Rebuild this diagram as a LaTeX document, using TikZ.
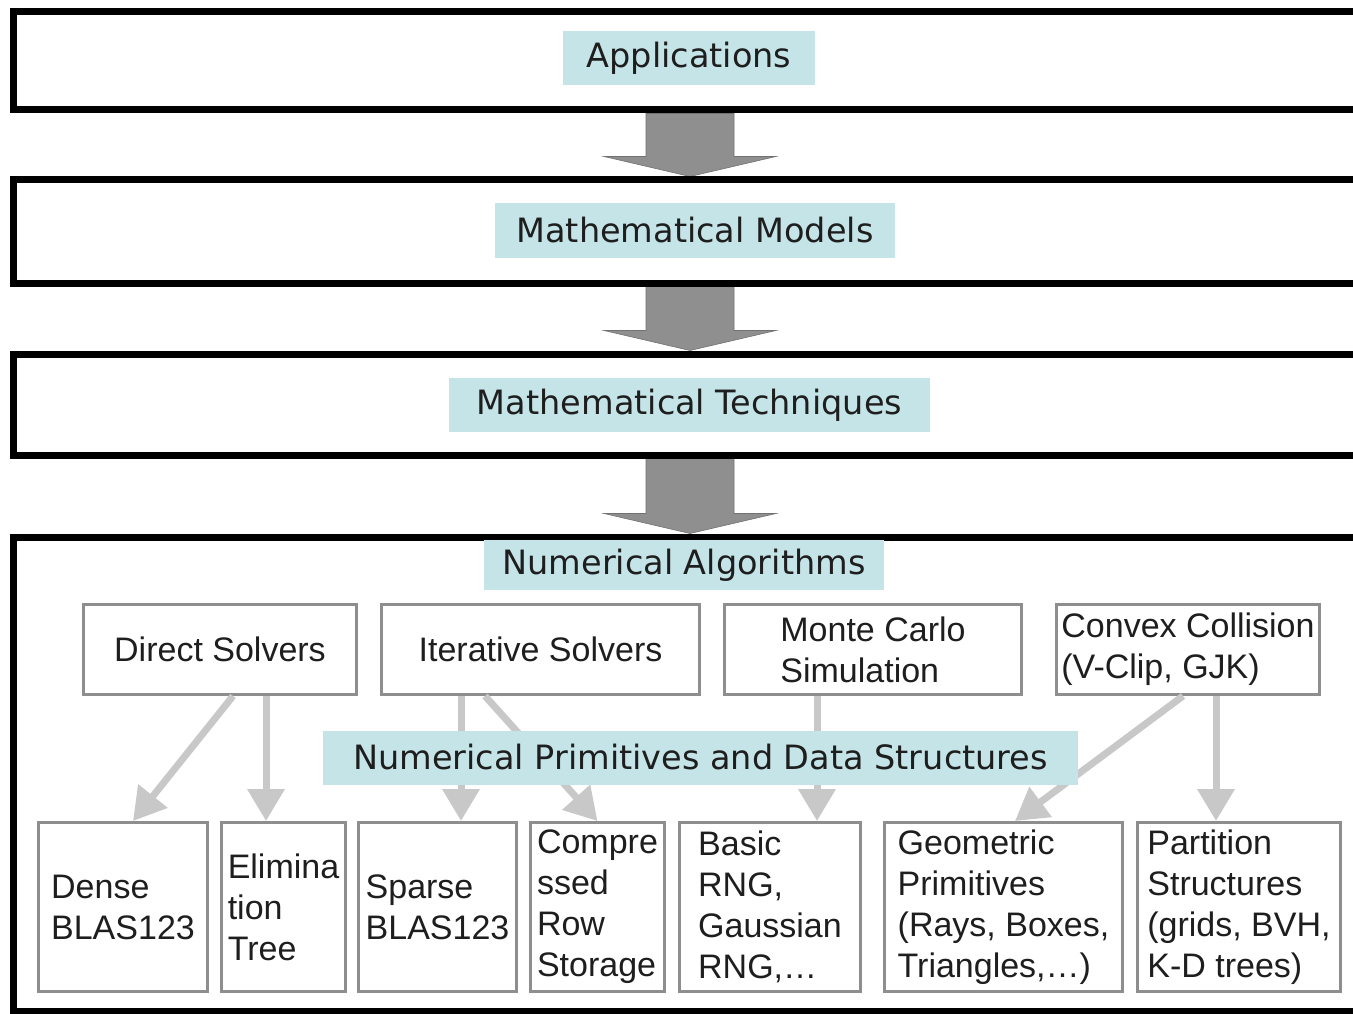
\documentclass[tikz,border=0pt]{standalone}
\usepackage{fontspec}
\setmainfont{Liberation Sans}
\newfontfamily\verafont{DejaVu Sans}
\usepackage{tikz}
\usetikzlibrary{positioning,arrows.meta,backgrounds,calc}
\definecolor{tealpale}{RGB}{197,228,232}
\definecolor{boxgray}{RGB}{142,142,142}
\definecolor{linkgray}{RGB}{200,200,200}
\definecolor{pipegray}{RGB}{143,143,143}
\definecolor{ink}{RGB}{30,30,30}
\tikzset{
  layer/.style  = {draw=black, line width=7pt, inner sep=0pt},
  banner/.style = {fill=tealpale, text=ink, inner sep=0pt, minimum height=54pt,
                   font=\verafont\fontsize{33.5}{40}\selectfont},
  algo/.style   = {draw=boxgray, line width=3pt, fill=white, text=ink, align=left,
                   inner sep=0pt, minimum height=90pt,
                   font=\fontsize{34}{41}\selectfont},
  prim/.style   = {algo, minimum height=169pt},
  link/.style   = {draw=linkgray, line width=7pt, -{Triangle[length=32pt,width=36pt]}},
  pipe/.style   = {fill=pipegray, draw=pipegray!80!black, line width=0.6pt},
}
% fat arrow from one layer down into the next: #1 = top, #2 = tip
\newcommand{\pipearrow}[2]{%
  \filldraw[pipe] ($(#1)+(-44,0)$) -- ($(#2)+(-44,-20)$) -- ($(#2)+(-86,-20)$)
    -- (#2) -- ($(#2)+(86,-20)$) -- ($(#2)+(44,-20)$) -- ($(#1)+(44,0)$) -- cycle;}

\begin{document}
\begin{tikzpicture}[x=1pt, y=-1pt]
\useasboundingbox (0,0) rectangle (1353,1014);

% ---------------- layers ----------------------------------------------
\node[layer, minimum width=1367pt, minimum height=98pt]  (l1) at (696.5,61)    {};
\node[layer, minimum width=1367pt, minimum height=103pt] (l2) at (696.5,231.5) {};
\node[layer, minimum width=1367pt, minimum height=101pt] (l3) at (696.5,404.5) {};
\node[layer, minimum width=1367pt, minimum height=474pt] (l4) at (696.5,774)   {};

\node[banner, minimum width=252pt] (t1) at (689,58.5)  {Applications};
\node[banner, minimum width=400pt] (t2) at (695,230.5) {Mathematical Models};
\node[banner, minimum width=481pt] (t3) at (689.5,405) {Mathematical Techniques};
\node[banner, minimum width=400pt, minimum height=50pt] (t4) at (684,565)
  {Numerical Algorithms};

\coordinate (spine) at (690,0);
\begin{scope}[on background layer]
  \pipearrow{spine |- l1.south}{spine |- l2.north}
  \pipearrow{spine |- l2.south}{spine |- l3.north}
  \pipearrow{spine |- l3.south}{spine |- l4.north}
\end{scope}

% ---------------- algorithms ------------------------------------------
\node[algo, minimum width=273pt] (a1) at (220,649.5)   {Direct Solvers};
\node[algo, minimum width=318pt] (a2) at (540.5,649.5) {Iterative Solvers};
\node[algo, minimum width=297pt] (a3) at (873,649.5)   {Monte Carlo\\Simulation};
\node[algo, minimum width=263pt] (a4) at (1188,649.5)  {Convex Collision\\(V-Clip, GJK)};

% ---------------- primitives ------------------------------------------
\node[prim, minimum width=169pt] (p1) at (123,907)    {Dense\\BLAS123};
\node[prim, minimum width=124pt] (p2) at (283.5,907)  {Elimina\\tion\\Tree};
\node[prim, minimum width=158pt] (p3) at (437.5,907)  {Sparse\\BLAS123};
\node[prim, minimum width=134pt] (p4) at (597.5,907)  {Compre\\ssed\\Row\\Storage};
\node[prim, minimum width=181pt] (p5) at (770,907)    {Basic\\RNG,\\Gaussian\\RNG,…};
\node[prim, minimum width=238pt] (p6) at (1003.5,907) {Geometric\\Primitives\\(Rays, Boxes,\\Triangles,…)};
\node[prim, minimum width=203pt] (p7) at (1239,907)   {Partition\\Structures\\(grids, BVH,\\K-D trees)};

\draw[link] ([xshift=13pt]a1.south) -- ([xshift=10pt]p1.north);
\draw[link] ([xshift=46pt]a1.south) -- ([xshift=46pt]a1.south |- p2.north);
\draw[link] ([xshift=-79.5pt]a2.south) -- ([xshift=-79.5pt]a2.south |- p3.north);
\draw[link] ([xshift=-55.5pt]a2.south) -- (p4.north);
\draw[link] ([xshift=-56pt]a3.south) -- ([xshift=-56pt]a3.south |- p5.north);
\draw[link] ([xshift=-5pt]a4.south) -- ([xshift=11.5pt]p6.north);
\draw[link] ([xshift=28pt]a4.south) -- ([xshift=28pt]a4.south |- p7.north);

% the banner sits over the links
\node[banner, minimum width=755pt] (t5) at (700.5,757.5)
  {Numerical Primitives and Data Structures};

\end{tikzpicture}
\end{document}
